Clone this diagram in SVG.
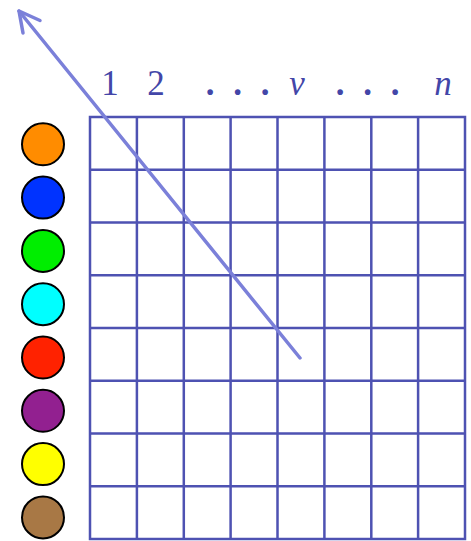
<svg xmlns="http://www.w3.org/2000/svg" width="471" height="541" viewBox="0 0 471 541">
<style>
.g{stroke:#4e52b2;stroke-width:2.5;fill:none}
.c{stroke:#000;stroke-width:2}
.t{font-family:"Liberation Serif","Times New Roman",serif;font-size:35px;fill:#4346a8;text-anchor:middle}
.i{font-style:italic}
.d{font-weight:bold}
.a{stroke:#7b80d9;stroke-width:3.5;fill:none;stroke-linecap:round;stroke-linejoin:round}
</style>
<rect width="471" height="541" fill="#fff"/>
<g id="grid">
<rect class="g" x="90" y="117" width="375" height="422"/>
<path class="g" d="M136.9 117V539M183.8 117V539M230.6 117V539M277.5 117V539M324.4 117V539M371.3 117V539M418.1 117V539M90 169.75H465M90 222.5H465M90 275.25H465M90 328H465M90 380.75H465M90 433.5H465M90 486.25H465"/>
</g>
<g id="labels">
<text class="t" x="110" y="95">1</text>
<text class="t" x="156" y="95">2</text>
<text class="t d" x="210" y="95">.</text>
<text class="t d" x="237.5" y="95">.</text>
<text class="t d" x="265" y="95">.</text>
<text class="t i" x="297" y="95">v</text>
<text class="t d" x="340" y="95">.</text>
<text class="t d" x="367.5" y="95">.</text>
<text class="t d" x="395" y="95">.</text>
<text class="t i" x="443" y="95">n</text>
</g>
<g id="colors">
<circle id="c1" class="c" cx="43" cy="144.3" r="21" fill="#ff8c00"/>
<circle id="c2" class="c" cx="43" cy="197.6" r="21" fill="#0033ff"/>
<circle id="c3" class="c" cx="43" cy="250.9" r="21" fill="#00ee00"/>
<circle id="c4" class="c" cx="43" cy="304.2" r="21" fill="#00ffff"/>
<circle id="c5" class="c" cx="43" cy="357.5" r="21" fill="#ff2200"/>
<circle id="c6" class="c" cx="43" cy="410.8" r="21" fill="#922090"/>
<circle id="c7" class="c" cx="43" cy="464.1" r="21" fill="#ffff00"/>
<circle id="c8" class="c" cx="43" cy="517.4" r="21" fill="#a87845"/>
</g>
<g id="connectors">
<path class="a" d="M300 358L19 11"/>
<path class="a" d="M40 20.5L19 11L23 33"/>
</g>
</svg>
